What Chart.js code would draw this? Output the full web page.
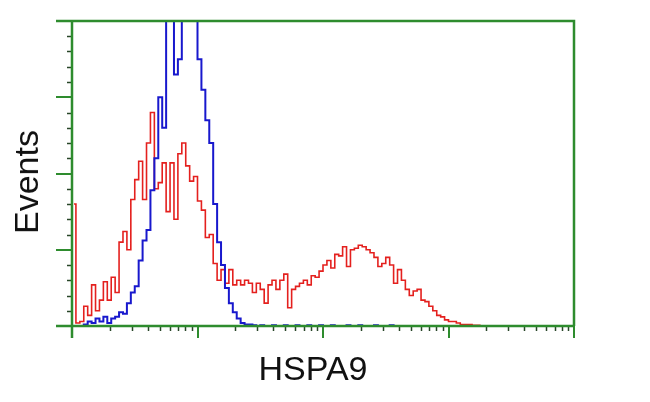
<!DOCTYPE html>
<html>
<head>
<meta charset="utf-8">
<script src="https://cdn.jsdelivr.net/npm/chart.js@4"></script>
<style>
  html, body { margin: 0; padding: 0; background: #ffffff; }
  #wrap { position: relative; width: 650px; height: 402px; overflow: hidden; }
  canvas { position: absolute; left: 0; top: 0; }
  .lbl { position: absolute; font-family: "Liberation Sans", Arial, sans-serif; font-size: 34px; line-height: 34px; color: #111; white-space: nowrap; }
  #xlab { left: 313px; top: 351px; transform: translateX(-50%); }
  #ylab { left: 26px; top: 182px; transform: translate(-50%, -50%) rotate(-90deg); }
</style>
</head>
<body>
<div id="wrap">
  <canvas id="c" width="650" height="402"></canvas>
  <div class="lbl" id="xlab">HSPA9</div>
  <div class="lbl" id="ylab">Events</div>
</div>
<script>
// ---- data ----
const xTitle = "HSPA9";
const yTitle = "Events";
const decades = [1, 10, 100, 1000, 10000];      // x axis decade ticks (no labels shown)
const channelsPerDecade = 32;
const totalChannels = 128;
const yMax = 200;
const yMajorStep = 50;
const yMinorStep = 10;

// red: HSPA9-transfected cells
const redCounts = [
  80, 2, 3, 13, 7, 27, 10, 17, 29, 17,
  32, 22, 55, 62, 50, 83, 96, 108, 83, 120,
  140, 90, 94, 107, 75, 107, 70, 113, 120, 105,
  95, 98, 82, 76, 58, 60, 41, 30, 37, 28,
  37, 27, 30, 27, 30, 28, 22, 28, 24, 15,
  27, 30, 24, 30, 34, 12, 24, 26, 28, 30,
  27, 33, 32, 36, 40, 43, 38, 47, 46, 52,
  39, 50, 51, 53, 52, 50, 48, 45, 39, 41,
  45, 40, 28, 37, 30, 24, 20, 23, 24, 17,
  16, 13, 10, 7, 6, 4, 3, 3, 2, 1,
  1, 1, 0.5, 0.5, 0, 0, 0, 0, 0, 0,
  0, 0, 0, 0, 0, 0, 0, 0, 0, 0,
  0, 0, 0, 0, 0, 0, 0, 0
];
// blue: empty-vector control cells
const blueCounts = [
  0, 0, 0, 1, 3, 2, 5, 3, 6, 2,
  5, 6, 9, 8, 15, 22, 26, 43, 56, 63,
  89, 110, 150, 130, 205, 215, 165, 175, 240, 260,
  260, 240, 175, 155, 135, 120, 80, 55, 40, 25,
  15, 9, 5, 2, 1, 1, 0.5, 0, 0.5, 0,
  0, 0.5, 0, 0, 0.5, 0, 0, 0.5, 0, 0,
  0.5, 0, 0, 0.5, 0, 0, 0.5, 0, 0, 0,
  0.5, 0, 0, 0.5, 0, 0, 0, 0.5, 0, 0,
  0, 0.5, 0, 0, 0, 0, 0, 0, 0, 0,
  0, 0, 0, 0, 0, 0, 0, 0, 0, 0,
  0, 0, 0, 0, 0, 0, 0, 0, 0, 0,
  0, 0, 0, 0, 0, 0, 0, 0, 0, 0,
  0, 0, 0, 0, 0, 0, 0, 0
];

const toPoints = arr => arr.map((v, i) => ({ x: i + 0.5, y: v }));

const GREEN = "rgb(46,140,46)";
const TICKDARK = "rgb(40,70,40)";

const framePlugin = {
  id: "frame",
  afterDatasetsDraw(chart) {
    const { ctx, chartArea: a, scales: { x, y } } = chart;
    const left = a.left, right = a.right, top = a.top, bottom = a.bottom;
    ctx.save();
    ctx.lineCap = "butt";
    // minor y ticks
    ctx.strokeStyle = TICKDARK;
    ctx.lineWidth = 1.5;
    for (let v = yMinorStep; v < yMax; v += yMinorStep) {
      if (v % yMajorStep === 0) continue;
      const py = Math.round(y.getPixelForValue(v)) + 0.5;
      ctx.beginPath(); ctx.moveTo(left - 5, py); ctx.lineTo(left, py); ctx.stroke();
    }
    // minor x ticks (2..9 in each decade)
    for (let d = 0; d < decades.length - 1; d++) {
      for (let k = 2; k <= 9; k++) {
        const ch = (d + Math.log10(k)) * channelsPerDecade;
        const px = Math.round(x.getPixelForValue(ch)) + 0.5;
        ctx.beginPath(); ctx.moveTo(px, bottom); ctx.lineTo(px, bottom + 5); ctx.stroke();
      }
    }
    // frame & major ticks
    ctx.strokeStyle = GREEN;
    ctx.lineWidth = 2.5;
    ctx.beginPath();
    ctx.moveTo(left - 16, top); ctx.lineTo(right, top); ctx.lineTo(right, bottom);
    ctx.moveTo(left - 16, bottom); ctx.lineTo(right, bottom);
    ctx.moveTo(left, top); ctx.lineTo(left, bottom + 12);
    ctx.stroke();
    ctx.lineWidth = 2;
    for (let v = yMajorStep; v < yMax; v += yMajorStep) {
      const py = Math.round(y.getPixelForValue(v));
      ctx.beginPath(); ctx.moveTo(left - 16, py); ctx.lineTo(left, py); ctx.stroke();
    }
    decades.forEach((dv, d) => {
      if (d === 0) return;
      const px = Math.round(x.getPixelForValue(d * channelsPerDecade));
      ctx.beginPath(); ctx.moveTo(px, bottom); ctx.lineTo(px, bottom + 12); ctx.stroke();
    });
    ctx.restore();
  }
};

new Chart(document.getElementById("c"), {
  type: "line",
  data: {
    datasets: [
      {
        label: "HSPA9",
        data: toPoints(redCounts),
        borderColor: "rgb(228,32,30)",
        borderWidth: 1.6,
        stepped: "middle",
        pointRadius: 0,
        fill: false,
        order: 2
      },
      {
        label: "control",
        data: toPoints(blueCounts),
        borderColor: "rgb(24,24,205)",
        borderWidth: 2,
        stepped: "middle",
        pointRadius: 0,
        fill: false,
        order: 1
      }
    ]
  },
  options: {
    responsive: false,
    animation: false,
    events: [],
    layout: { padding: { left: 72, right: 76, top: 21, bottom: 76 } },
    plugins: { legend: { display: false }, tooltip: { enabled: false } },
    scales: {
      x: { type: "linear", min: 0, max: totalChannels, display: false },
      y: { type: "linear", min: 0, max: yMax, display: false }
    }
  },
  plugins: [framePlugin]
});
</script>
</body>
</html>
